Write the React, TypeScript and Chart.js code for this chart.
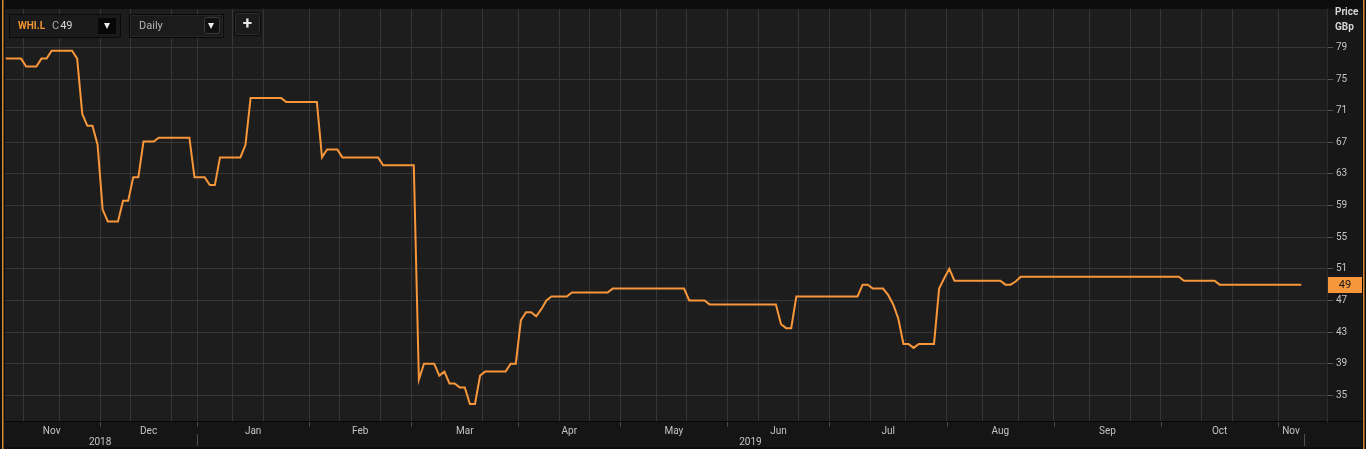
import React, { useEffect, useRef } from 'react';
import { Chart, registerables } from 'chart.js';

Chart.register(...registerables);

// ---------- data ----------
const tickerSymbol = 'WHI.L';
const closeLabel = 'C';
const intervalLabel = 'Daily';
const axisTitleLines = ['Price', 'GBp'];
const firstTradingDay = '2018-11-06';
const marketHolidays = [
  '2018-12-25', '2018-12-26', '2019-01-01', '2019-04-19',
  '2019-04-22', '2019-05-06', '2019-05-27', '2019-08-26',
];
const monthNames = ['Jan', 'Feb', 'Mar', 'Apr', 'May', 'Jun', 'Jul', 'Aug', 'Sep', 'Oct', 'Nov', 'Dec'];
const gridDaysOfMonth = [1, 11, 21];
const priceTicks = [35, 39, 43, 47, 51, 55, 59, 63, 67, 71, 75, 79];

// daily closes (GBp), Nov 2018 .. Nov 2019
const closes = [
  77.6, 77.6, 77.6, 77.6, 76.6, 76.6, 76.6, 77.6, 77.6, 78.6,
  78.6, 78.6, 78.6, 78.6, 77.6, 70.6, 69.1, 69.1, 66.7, 58.5,
  57.0, 57.0, 57.0, 59.6, 59.6, 62.6, 62.6, 67.1, 67.1, 67.1,
  67.6, 67.6, 67.6, 67.6, 67.6, 67.6, 67.6, 62.6, 62.6, 62.6,
  61.6, 61.6, 65.1, 65.1, 65.1, 65.1, 65.1, 66.7, 72.6, 72.6,
  72.6, 72.6, 72.6, 72.6, 72.6, 72.1, 72.1, 72.1, 72.1, 72.1,
  72.1, 72.1, 65.1, 66.1, 66.1, 66.1, 65.1, 65.1, 65.1, 65.1,
  65.1, 65.1, 65.1, 65.1, 64.1, 64.1, 64.1, 64.1, 64.1, 64.1,
  64.1, 37.0, 39.0, 39.0, 39.0, 37.5, 38.0, 36.5, 36.5, 36.0,
  36.0, 33.9, 33.9, 37.5, 38.0, 38.0, 38.0, 38.0, 38.0, 39.0,
  39.0, 44.5, 45.5, 45.5, 45.0, 45.9, 47.0, 47.5, 47.5, 47.5,
  47.5, 48.0, 48.0, 48.0, 48.0, 48.0, 48.0, 48.0, 48.0, 48.5,
  48.5, 48.5, 48.5, 48.5, 48.5, 48.5, 48.5, 48.5, 48.5, 48.5,
  48.5, 48.5, 48.5, 48.5, 47.0, 47.0, 47.0, 47.0, 46.5, 46.5,
  46.5, 46.5, 46.5, 46.5, 46.5, 46.5, 46.5, 46.5, 46.5, 46.5,
  46.5, 46.5, 44.0, 43.5, 43.5, 47.5, 47.5, 47.5, 47.5, 47.5,
  47.5, 47.5, 47.5, 47.5, 47.5, 47.5, 47.5, 47.5, 49.0, 49.0,
  48.5, 48.5, 48.5, 47.7, 46.5, 44.7, 41.5, 41.5, 41.0, 41.5,
  41.5, 41.5, 41.5, 48.5, 49.8, 51.0, 49.5, 49.5, 49.5, 49.5,
  49.5, 49.5, 49.5, 49.5, 49.5, 49.5, 49.0, 49.0, 49.4, 50.0,
  50.0, 50.0, 50.0, 50.0, 50.0, 50.0, 50.0, 50.0, 50.0, 50.0,
  50.0, 50.0, 50.0, 50.0, 50.0, 50.0, 50.0, 50.0, 50.0, 50.0,
  50.0, 50.0, 50.0, 50.0, 50.0, 50.0, 50.0, 50.0, 50.0, 50.0,
  50.0, 49.5, 49.5, 49.5, 49.5, 49.5, 49.5, 49.5, 49.0, 49.0,
  49.0, 49.0, 49.0, 49.0, 49.0, 49.0, 49.0, 49.0, 49.0, 49.0,
  49.0, 49.0, 49.0, 49.0, 49.0,
];

// ---------- helpers ----------
function buildTradingDays(start: string, count: number, holidays: string[]) {
  const out: Date[] = [];
  const d = new Date(start + 'T00:00:00Z');
  while (out.length < count) {
    const wd = d.getUTCDay();
    const iso = d.toISOString().slice(0, 10);
    if (wd !== 0 && wd !== 6 && !holidays.includes(iso)) out.push(new Date(d.getTime()));
    d.setUTCDate(d.getUTCDate() + 1);
  }
  return out;
}

type Group = { key: string; first: number; last: number; date: Date };
function groupDates(dates: Date[], keyFn: (d: Date) => string): Group[] {
  const groups: Group[] = [];
  dates.forEach((d, i) => {
    const k = keyFn(d);
    const g = groups[groups.length - 1];
    if (g && g.key === k) g.last = i;
    else groups.push({ key: k, first: i, last: i, date: d });
  });
  return groups;
}

const tradingDates = buildTradingDays(firstTradingDay, closes.length, marketHolidays);
const monthGroups = groupDates(tradingDates, (d) => d.getUTCFullYear() + '-' + d.getUTCMonth());
const yearGroups = groupDates(tradingDates, (d) => String(d.getUTCFullYear()));

const gridPositions: number[] = [];
for (let i = 1; i < tradingDates.length; i++) {
  const t = new Date(tradingDates[i - 1].getTime());
  t.setUTCDate(t.getUTCDate() + 1);
  while (t <= tradingDates[i]) {
    if (gridDaysOfMonth.includes(t.getUTCDate())) {
      gridPositions.push(i - 0.5);
      break;
    }
    t.setUTCDate(t.getUTCDate() + 1);
  }
}

const FONT = 'Roboto, "DejaVu Sans", sans-serif';
const ORANGE = '#f7963a';

const framePlugin = {
  id: 'frame',
  beforeDraw(chart: any) {
    const { ctx, chartArea: a, width, height } = chart;
    ctx.save();
    ctx.fillStyle = '#0d0d0d';
    ctx.fillRect(0, 0, width, height);
    ctx.fillStyle = '#1d1d1d';
    ctx.fillRect(a.left, a.top, a.right - a.left, a.bottom - a.top);
    ctx.fillStyle = '#171717';
    ctx.fillRect(a.right, a.top, width - 4 - a.right, a.bottom - a.top);
    ctx.fillStyle = '#151515';
    ctx.fillRect(4, a.bottom, width - 8, height - 2 - a.bottom);
    ctx.fillStyle = '#060606';
    ctx.fillRect(4, a.bottom, width - 8, 1);
    ctx.fillStyle = '#d98935';
    ctx.fillRect(2, 0, 1.5, height);
    ctx.fillRect(width - 3, 0, 1.5, height);
    ctx.restore();
  },
  afterDraw(chart: any) {
    const { ctx, chartArea: a } = chart;
    const xs = chart.scales.x;
    const ys = chart.scales.y;
    ctx.save();
    // month / year separators
    ctx.fillStyle = '#4a4a4a';
    monthGroups.forEach((g, k) => {
      if (k === 0) return;
      const px = Math.round(xs.getPixelForValue(g.first - 0.5));
      ctx.fillRect(px, a.bottom + 1, 1, 5);
    });
    ctx.fillStyle = '#505050';
    yearGroups.forEach((g) => {
      const px = Math.round(xs.getPixelForValue(g.last + 0.5));
      ctx.fillRect(px, a.bottom + 13, 1, 12);
    });
    // month labels
    ctx.font = '10px ' + FONT;
    ctx.textAlign = 'center';
    ctx.textBaseline = 'middle';
    ctx.fillStyle = '#c4c4c4';
    monthGroups.forEach((g) => {
      const cx = xs.getPixelForValue((g.first + g.last) / 2);
      ctx.fillText(monthNames[g.date.getUTCMonth()], cx, a.bottom + 10.5);
    });
    yearGroups.forEach((g) => {
      const cx = xs.getPixelForValue((g.first + g.last) / 2);
      ctx.fillText(String(g.date.getUTCFullYear()), cx, a.bottom + 21.5);
    });
    // axis title
    ctx.font = 'bold 10px ' + FONT;
    ctx.textAlign = 'left';
    ctx.fillStyle = '#d4d4d4';
    ctx.fillText(axisTitleLines[0], a.right + 8, 12);
    ctx.fillText(axisTitleLines[1], a.right + 8, 27);
    // last price badge
    const last = closes[closes.length - 1];
    const py = Math.round(ys.getPixelForValue(last));
    ctx.fillStyle = ORANGE;
    ctx.fillRect(a.right + 1, py - 8, 34, 16);
    ctx.fillStyle = '#151515';
    ctx.font = '11px ' + FONT;
    ctx.textAlign = 'center';
    ctx.fillText(String(last), a.right + 18, py + 0.5);
    ctx.restore();
  },
};

function Triangle({ left, top }: { left: number; top: number }) {
  return (
    <div
      style={{
        position: 'absolute',
        left,
        top,
        width: 0,
        height: 0,
        borderLeft: '3.5px solid transparent',
        borderRight: '3.5px solid transparent',
        borderTop: '6px solid #eeeeee',
      }}
    />
  );
}

export default function App() {
  const canvasRef = useRef<HTMLCanvasElement | null>(null);

  useEffect(() => {
    const canvas = canvasRef.current;
    if (!canvas) return;
    const chart = new Chart(canvas, {
      type: 'line',
      data: {
        datasets: [
          {
            data: closes.map((v, i) => ({ x: i, y: v })),
            borderColor: ORANGE,
            borderWidth: 2,
            pointRadius: 0,
            tension: 0,
            fill: false,
          },
        ],
      },
      options: {
        animation: false,
        responsive: false,
        devicePixelRatio: 1,
        events: [],
        layout: { padding: { left: 5, right: 4, top: 4, bottom: 0 } },
        plugins: { legend: { display: false }, tooltip: { enabled: false } },
        scales: {
          x: {
            type: 'linear',
            position: 'bottom',
            min: -0.15,
            max: 259.05,
            afterBuildTicks: (s: any) => {
              s.ticks = gridPositions.map((v) => ({ value: v }));
            },
            afterFit: (s: any) => {
              s.height = 28;
            },
            ticks: { display: false },
            grid: { color: '#363636', lineWidth: 1, drawTicks: false },
            border: { display: false },
          },
          y: {
            type: 'linear',
            position: 'right',
            min: 31.75,
            max: 83.875,
            afterBuildTicks: (s: any) => {
              s.ticks = priceTicks.map((v) => ({ value: v }));
            },
            afterFit: (s: any) => {
              s.width = 35;
            },
            ticks: {
              color: '#c4c4c4',
              font: { family: FONT, size: 10 },
              padding: 3,
              callback: (v: any) => String(v),
            },
            grid: { color: '#363636', lineWidth: 1, tickLength: 6, tickColor: '#555555' },
            border: { display: true, color: '#2e2e2e' },
          },
        },
      } as any,
      plugins: [framePlugin],
    });
    return () => chart.destroy();
  }, []);

  const lastClose = closes[closes.length - 1];

  return (
    <div
      style={{
        position: 'absolute',
        left: 0,
        top: 0,
        width: 1366,
        height: 449,
        overflow: 'hidden',
        background: '#0d0d0d',
        fontFamily: FONT,
      }}
    >
      <canvas ref={canvasRef} width={1366} height={449} style={{ display: 'block' }} />
      {/* symbol box */}
      <div
        style={{
          position: 'absolute',
          left: 9,
          top: 14,
          width: 110,
          height: 22,
          background: '#1a1a1a',
          border: '1px solid #0a0a0a',
        }}
      />
      <div
        style={{
          position: 'absolute',
          left: 18,
          top: 19,
          fontSize: 10,
          fontWeight: 700,
          color: '#f0952f',
          lineHeight: '14px',
        }}
      >
        {tickerSymbol}
      </div>
      <div style={{ position: 'absolute', left: 52, top: 18, fontSize: 11, lineHeight: '15px', color: '#a8a8a8' }}>
        {closeLabel}
        <span style={{ color: '#d6d6d6', marginLeft: 1 }}>{lastClose}</span>
      </div>
      <div style={{ position: 'absolute', left: 98, top: 18, width: 18, height: 16, background: '#070707' }} />
      <Triangle left={103.5} top={23} />
      {/* interval box */}
      <div
        style={{
          position: 'absolute',
          left: 129,
          top: 14,
          width: 93,
          height: 22,
          background: '#1b1b1b',
          border: '1px solid #0a0a0a',
          boxShadow: 'inset 0 0 0 1px #262626',
        }}
      />
      <div style={{ position: 'absolute', left: 139, top: 18, fontSize: 11, lineHeight: '15px', color: '#b4b4b4' }}>
        {intervalLabel}
      </div>
      <div
        style={{
          position: 'absolute',
          left: 204,
          top: 17,
          width: 14,
          height: 15,
          background: '#101010',
          border: '1px solid #3a3a3a',
          borderRadius: 3,
        }}
      />
      <Triangle left={208} top={23} />
      {/* add button */}
      <div
        style={{
          position: 'absolute',
          left: 234,
          top: 12,
          width: 25,
          height: 22,
          background: '#1b1b1b',
          border: '1px solid #0a0a0a',
          boxShadow: 'inset 0 0 0 1px #2c2c2c',
          borderRadius: 3,
        }}
      />
      <div
        style={{
          position: 'absolute',
          left: 234,
          top: 12,
          width: 27,
          height: 24,
          textAlign: 'center',
          fontSize: 17,
          fontWeight: 700,
          lineHeight: '23px',
          color: '#e6e6e6',
        }}
      >
        +
      </div>
    </div>
  );
}
